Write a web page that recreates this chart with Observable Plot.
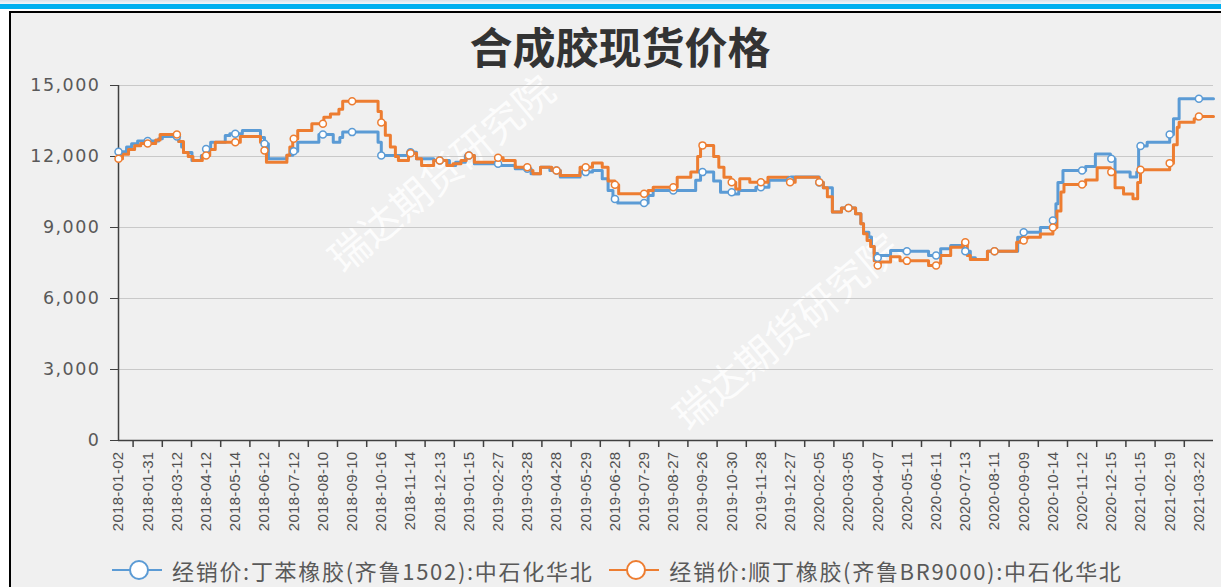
<!DOCTYPE html>
<html><head><meta charset="utf-8">
<script src="https://cdn.jsdelivr.net/npm/d3@7"></script>
<script src="https://cdn.jsdelivr.net/npm/@observablehq/plot@0.6"></script>
<style>
body{margin:0;width:1221px;height:587px;overflow:hidden;background:#fff;position:relative;}
#band1{position:absolute;left:0;top:0;width:1221px;height:4px;background:linear-gradient(#d9e1ea,#f2f6fa);}
#band2{position:absolute;left:0;top:4px;width:1221px;height:5px;background:#00b0f0;}
#frame{position:absolute;left:9px;top:11px;width:1240px;height:600px;border:2px solid #000;background:#f0f0f0;}
#title{position:absolute;left:0;top:18px;width:1240px;text-align:center;font:bold 43px "Noto Sans CJK SC";color:#333;line-height:54px;}
.wm{position:absolute;color:rgba(255,255,255,0.85);font:40px "Noto Sans CJK SC";transform:translate(-50%,-50%) rotate(-40deg);white-space:nowrap;}
#chart{position:absolute;left:0;top:60px;}
#chart svg{background:transparent;overflow:visible;}
#chart svg [aria-label="y-axis tick label"] text{letter-spacing:1.5px;}
#chart svg [aria-label="x-axis tick label"] text{letter-spacing:0.3px;}
#legend{position:absolute;left:112px;top:558px;height:24px;display:flex;align-items:center;font:22px "Noto Sans CJK SC";line-height:24px;letter-spacing:1.7px;color:#595959;white-space:nowrap;}
#legend .item{display:flex;align-items:center;height:24px;}
#legend .item + .item{margin-left:16px;}
#legend svg{margin-right:10px;}
</style></head>
<body>
<div id="band1"></div><div id="band2"></div>
<div id="frame"></div>
<div id="title"></div>
<div class="wm" style="left:440px;top:172px;">瑞达期货研究院</div>
<div class="wm" style="left:785px;top:330px;">瑞达期货研究院</div>
<div id="chart"></div>
<div id="legend"></div>
<script>
const titleText = "合成胶现货价格";
const seriesNames = ["经销价:丁苯橡胶(齐鲁1502):中石化华北", "经销价:顺丁橡胶(齐鲁BR9000):中石化华北"];
const seriesColors = ["#5b9bd5", "#ed7d31"];
const yTicks = [0, 3000, 6000, 9000, 12000, 15000];
const labelDates = ["2018-01-02","2018-01-31","2018-03-12","2018-04-12","2018-05-14","2018-06-12","2018-07-12","2018-08-10","2018-09-10","2018-10-16","2018-11-14","2018-12-13","2019-01-15","2019-02-27","2019-03-28","2019-04-28","2019-05-29","2019-06-28","2019-07-29","2019-08-27","2019-09-26","2019-10-30","2019-11-28","2019-12-27","2020-02-05","2020-03-05","2020-04-07","2020-05-11","2020-06-11","2020-07-13","2020-08-11","2020-09-09","2020-10-14","2020-11-12","2020-12-15","2021-01-15","2021-02-19","2021-03-22"];
const endDate = "2021-04-06";

// 丁苯橡胶(齐鲁1502) change points
const sbrDates = ["2018-01-02","2018-01-10","2018-01-15","2018-01-21","2018-02-15","2018-02-20","2018-03-14","2018-03-17","2018-03-19","2018-03-28","2018-04-07","2018-04-11","2018-04-17","2018-05-03","2018-05-08","2018-05-21","2018-06-08","2018-06-12","2018-06-16","2018-07-05","2018-07-11","2018-07-16","2018-08-06","2018-08-21","2018-08-28","2018-08-31","2018-10-12","2018-10-16","2018-11-11","2018-11-20","2018-12-07","2018-12-24","2018-12-31","2019-01-11","2019-01-23","2019-03-01","2019-03-16","2019-04-01","2019-04-11","2019-04-21","2019-05-02","2019-05-23","2019-06-05","2019-06-15","2019-06-21","2019-06-26","2019-07-01","2019-08-02","2019-08-07","2019-09-19","2019-09-24","2019-10-09","2019-10-17","2019-10-31","2019-11-06","2019-11-23","2019-12-06","2019-12-28","2020-02-05","2020-02-09","2020-02-18","2020-02-27","2020-03-13","2020-03-19","2020-03-22","2020-03-28","2020-03-31","2020-04-03","2020-04-07","2020-04-10","2020-04-22","2020-05-07","2020-06-03","2020-06-16","2020-06-27","2020-07-11","2020-07-18","2020-07-23","2020-08-04","2020-09-03","2020-09-08","2020-09-29","2020-10-14","2020-10-17","2020-10-19","2020-10-24","2020-11-16","2020-11-27","2020-12-14","2020-12-19","2021-01-04","2021-01-11","2021-01-13","2021-01-23","2021-02-19","2021-02-23","2021-03-01"];
const sbrValues = [12200,12400,12540,12650,12750,12850,12630,12400,12170,11830,12040,12320,12600,12890,12960,13100,12800,12540,11900,12050,12220,12600,12930,12600,12800,13030,12600,12040,12180,11900,11830,11620,11760,12040,11690,11620,11480,11270,11550,11410,11130,11340,11410,11060,10560,10200,10040,10350,10560,11000,11340,10970,10490,10420,10560,10700,11000,11130,10900,10680,9650,9820,9580,9160,8800,8600,8200,7900,7720,7820,8030,8000,7820,8100,8240,8000,7720,7650,8000,8590,8800,9000,9300,10000,10900,11410,11580,12110,11900,11340,11130,11340,12440,12600,12930,13600,14440];

// 顺丁橡胶(齐鲁BR9000) change points
const brDates = ["2018-01-02","2018-01-06","2018-01-12","2018-01-18","2018-01-24","2018-02-11","2018-02-17","2018-03-14","2018-03-19","2018-03-24","2018-03-29","2018-04-08","2018-04-16","2018-04-22","2018-05-19","2018-06-08","2018-06-11","2018-06-14","2018-07-05","2018-07-08","2018-07-11","2018-07-16","2018-07-30","2018-08-11","2018-08-18","2018-08-27","2018-08-31","2018-10-12","2018-10-16","2018-10-20","2018-10-25","2018-10-30","2018-11-02","2018-11-12","2018-11-20","2018-11-25","2018-12-07","2018-12-21","2018-12-28","2019-01-06","2019-01-12","2019-01-23","2019-02-27","2019-03-04","2019-03-16","2019-03-29","2019-04-03","2019-04-11","2019-04-23","2019-05-02","2019-05-23","2019-06-05","2019-06-15","2019-06-21","2019-06-28","2019-07-02","2019-08-02","2019-08-07","2019-08-31","2019-09-14","2019-09-21","2019-09-24","2019-10-09","2019-10-15","2019-10-21","2019-10-29","2019-11-03","2019-11-07","2019-11-17","2019-12-05","2019-12-26","2020-01-03","2020-02-04","2020-02-09","2020-02-13","2020-02-18","2020-02-27","2020-03-13","2020-03-19","2020-03-22","2020-03-26","2020-03-30","2020-04-03","2020-04-07","2020-04-10","2020-04-22","2020-05-03","2020-06-03","2020-06-13","2020-06-16","2020-06-27","2020-07-10","2020-07-15","2020-07-18","2020-08-04","2020-09-02","2020-09-06","2020-09-10","2020-09-14","2020-09-29","2020-10-14","2020-10-18","2020-10-22","2020-10-25","2020-11-16","2020-11-29","2020-12-14","2020-12-19","2020-12-28","2021-01-07","2021-01-12","2021-01-15","2021-02-19","2021-02-23","2021-02-27","2021-03-01","2021-03-17","2021-03-21"];
const brValues = [11900,12100,12300,12450,12550,12700,12930,12630,12170,12000,11830,12040,12300,12600,12850,12600,12250,11760,12050,12400,12750,13100,13380,13660,13800,14000,14330,13900,13440,12900,12400,12000,11830,12140,11900,11620,11830,11620,11690,11830,12040,11760,11950,11830,11550,11410,11270,11550,11410,11200,11550,11730,11550,10970,10810,10430,10560,10700,11120,11340,12000,12470,12000,11550,11120,10910,10630,11060,10910,11120,10910,11120,10910,10680,10300,9650,9820,9580,9160,8740,8450,8200,7600,7390,7540,7760,7590,7390,7490,7820,8170,8380,7820,7650,8000,8380,8450,8560,8590,8730,9000,9700,10500,10820,11010,11520,11340,10680,10420,10210,10900,11440,11720,12500,13240,13450,13600,13690];

document.getElementById("title").textContent = titleText;

const parse = d3.utcParse("%Y-%m-%d");
// category-axis position: label dates are evenly spaced
const pos = d3.scaleUtc()
  .domain([...labelDates, endDate].map(parse))
  .range([...d3.range(labelDates.length), labelDates.length - 0.5]);

function buildRows(name, dates, values) {
  const rows = dates.map((d, i) => ({series: name, date: parse(d), value: values[i]}));
  rows.push({series: name, date: parse(endDate), value: values[values.length - 1]});
  return rows;
}
const sbrRows = buildRows(seriesNames[0], sbrDates, sbrValues);
const brRows = buildRows(seriesNames[1], brDates, brValues);
const rows = [...sbrRows, ...brRows];

const bis = d3.bisector(d => d.date).right;
function markersFor(series) {
  return labelDates.map(ld => {
    const t = parse(ld);
    const i = Math.max(0, bis(series, t) - 1);
    return {series: series[0].series, date: t, value: series[i].value};
  });
}
const markers = [...markersFor(sbrRows), ...markersFor(brRows)];
const mids = d3.range(labelDates.length - 1).map(i => i + 0.5);

const chart = Plot.plot({
  width: 1221,
  height: 480,
  marginLeft: 118,
  marginRight: 8,
  marginTop: 25,
  marginBottom: 100,
  style: {background: "transparent", color: "#404040"},
  x: {type: "linear", domain: [0, labelDates.length - 0.5], label: null},
  y: {domain: [0, 15000], label: null},
  color: {domain: seriesNames, range: seriesColors},
  marks: [
    Plot.gridY(yTicks.filter(d => d > 0), {stroke: "#c9c9c9", strokeOpacity: 1, strokeWidth: 1.2}),
    Plot.axisY(yTicks, {tickFormat: d3.format(","), tickSize: 8, tickPadding: 10, fontSize: 17.5, fontFamily: "DejaVu Sans", fill: "#595959", stroke: "#404040"}),
    Plot.axisX(d3.range(labelDates.length), {tickFormat: i => labelDates[i], tickRotate: -90, tickSize: 0, tickPadding: 11, fontSize: 15, fontFamily: "Liberation Sans", fill: "#505050"}),
    Plot.axisX(mids, {tickFormat: () => "", tickSize: 7, stroke: "#404040", strokeWidth: 1.5}),
    Plot.ruleY([0], {stroke: "#404040", strokeWidth: 1.5}),
    Plot.ruleX([0], {y1: 0, y2: 15000, stroke: "#404040", strokeWidth: 1.5}),
    Plot.line(rows, {x: d => pos(d.date), y: "value", z: "series", stroke: "series", curve: "step-after", strokeWidth: 3}),
    Plot.dot(markers, {x: d => pos(d.date), y: "value", stroke: "series", fill: "white", r: 3.5, strokeWidth: 1.5})
  ]
});
document.getElementById("chart").appendChild(chart);

// legend
const legend = d3.select("#legend");
seriesNames.forEach((name, i) => {
  const item = legend.append("div").attr("class", "item");
  const s = item.append("svg").attr("width", 50).attr("height", 24);
  s.append("line").attr("x1", 0).attr("x2", 50).attr("y1", 12).attr("y2", 12).attr("stroke", seriesColors[i]).attr("stroke-width", 2);
  s.append("circle").attr("cx", 27).attr("cy", 12).attr("r", 9).attr("fill", "white").attr("stroke", seriesColors[i]).attr("stroke-width", 2);
  item.append("span").text(name);
});
</script>
</body></html>
